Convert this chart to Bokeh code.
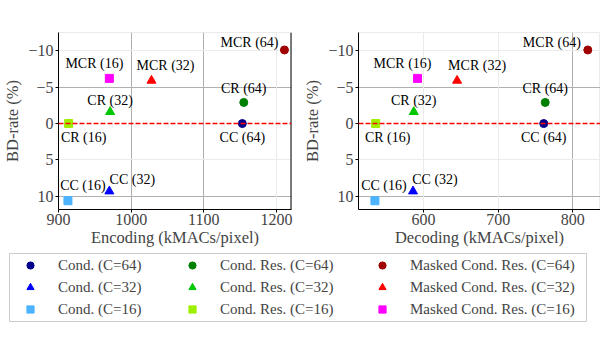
from bokeh.plotting import figure
from bokeh.models import (ColumnDataSource, Range1d, FixedTicker, CustomJSTickFormatter,
                          Span, Legend, LegendItem, Grid)
from bokeh.layouts import column, row
from bokeh.core.properties import value
from bokeh.embed import file_html
from bokeh.resources import INLINE

FONT = "Liberation Serif"

# ---- data (order: C=64, C=32, C=16; within each: Cond., Cond. Res., Masked Cond. Res.)
point_labels = ["CC (64)", "CR (64)", "MCR (64)",
                "CC (32)", "CR (32)", "MCR (32)",
                "CC (16)", "CR (16)", "MCR (16)"]
legend_labels = ["Cond. (C=64)", "Cond. Res. (C=64)", "Masked Cond. Res. (C=64)",
                 "Cond. (C=32)", "Cond. Res. (C=32)", "Masked Cond. Res. (C=32)",
                 "Cond. (C=16)", "Cond. Res. (C=16)", "Masked Cond. Res. (C=16)"]
encoding_kmacs = [1153, 1155, 1211, 970, 971, 1028, 913, 914, 970]
decoding_kmacs = [761, 763, 820, 586, 587, 645, 535, 536, 592]
bd_rate = [0.0, -2.9, -10.1, 9.3, -1.6, -5.9, 10.6, 0.0, -6.2]

enc_ticks = [900, 1000, 1100, 1200]
dec_ticks = [600, 700, 800]
bd_ticks = [-10, -5, 0, 5, 10]

# ---- styles
markers = ["circle", "circle", "circle",
           "triangle", "triangle", "triangle",
           "square", "square", "square"]
colors = ["#00008b", "#008000", "#a00000",
          "#0000ff", "#00c800", "#ff0000",
          "#4cb3ff", "#9ef000", "#ff00ff"]
sizes = [8, 8, 8, 9, 9, 9, 8, 8, 8]

# grid lines: darker and lighter sets (as in the reference)
enc_grid_dark, enc_grid_light = [1000, 1100], [1200]
dec_grid_dark, dec_grid_light = [800], [600, 700]
bd_grid_dark, bd_grid_light = [-5, 10], [-10, 5]

# label offsets (screen px) for annotations
enc_dx = [0, 0, -6, 23, 0, 14, 15, 15, -15]
enc_dy = [14, -14, -7, -12, -11, -15, -15, 14, -15]
dec_dx = [0, 0, -7, 22, 0, 20, 9, 12, -15]
dec_dy = [14, -14, -7, -12, -11, -15, -15, 14, -15]
aligns = ["center", "center", "right", "center", "center", "center", "center", "center", "center"]

tick_fmt_code = "return tick < 0 ? '\\u2212' + Math.abs(tick) : String(tick);"


def make_plot(xvals, xr, xticks, xgd, xgl, xlabel, dx, dy, width, mbl, mbr, right_spine):
    src = ColumnDataSource(dict(x=xvals, y=bd_rate, marker=markers, color=colors, size=sizes,
                                label=point_labels, dx=dx, dy=dy, align=aligns))
    p = figure(width=width, height=252, x_range=Range1d(*xr), y_range=Range1d(11.8, -12.5),
               output_backend="svg", toolbar_location=None,
               min_border_left=mbl, min_border_right=mbr, min_border_top=32, min_border_bottom=43)
    p.outline_line_color = "#ebebeb"
    p.background_fill_color = "white"
    p.xaxis.ticker = FixedTicker(ticks=xticks)
    p.yaxis.ticker = FixedTicker(ticks=bd_ticks)
    p.yaxis.formatter = CustomJSTickFormatter(code=tick_fmt_code)
    p.xgrid.ticker = FixedTicker(ticks=xgd)
    p.ygrid.ticker = FixedTicker(ticks=bd_grid_dark)
    p.grid.grid_line_color = "#b0b0b0"
    p.grid.grid_line_width = 1
    p.add_layout(Grid(dimension=0, ticker=FixedTicker(ticks=xgl), grid_line_color="#ebebeb"))
    p.add_layout(Grid(dimension=1, ticker=FixedTicker(ticks=bd_grid_light), grid_line_color="#ebebeb"))
    p.xaxis.axis_label = xlabel
    p.yaxis.axis_label = "BD-rate (%)"
    for ax in (p.xaxis[0], p.yaxis[0]):
        ax.axis_label_text_font = FONT
        ax.axis_label_text_font_style = "normal"
        ax.axis_label_text_font_size = "16.5px"
        ax.major_label_text_font = FONT
        ax.major_label_text_font_size = "16px"
        ax.axis_line_color = "black"
        ax.major_tick_line_color = "black"
        ax.major_tick_out = 3
        ax.major_tick_in = 0
        ax.minor_tick_line_color = None
    p.xaxis.major_label_standoff = 1
    p.xaxis.axis_label_standoff = 0
    p.yaxis.major_label_standoff = 2
    p.yaxis.axis_label_standoff = 3
    if right_spine:
        p.add_layout(Span(location=xr[1], dimension="height", line_color="black", line_width=2))
    p.add_layout(Span(location=0, dimension="width", line_color="#ff0000",
                      line_dash="5 2", line_width=1.5))
    p.scatter(x="x", y="y", marker="marker", size="size", fill_color="color",
              line_color="color", source=src)
    p.text(x="x", y="y", text="label", x_offset="dx", y_offset="dy", text_align="align",
           text_baseline="middle", text_font=value(FONT), text_font_size="14px",
           text_color="black", source=src)
    return p


p1 = make_plot(encoding_kmacs, (900, 1220.7), enc_ticks, enc_grid_dark, enc_grid_light,
               "Encoding (kMACs/pixel)", enc_dx, enc_dy, 300, 54, 9, True)
p2 = make_plot(decoding_kmacs, (513, 837), dec_ticks, dec_grid_dark, dec_grid_light,
               "Decoding (kMACs/pixel)", dec_dx, dec_dy, 300, 58, 0, False)

# ---- legend panel (hidden copies of the series supply the legend glyphs)
lp = figure(width=600, height=77, x_range=Range1d(0, 1), y_range=Range1d(0, 1),
            output_backend="svg", toolbar_location=None, x_axis_type=None, y_axis_type=None,
            min_border_left=9, min_border_right=14, min_border_top=1, min_border_bottom=8)
lp.outline_line_color = "#cccccc"
lp.grid.visible = False
dummies = []
for xv, yv, m, c in zip(encoding_kmacs, bd_rate, markers, colors):
    r = lp.scatter(x=[xv], y=[yv], marker=m, size=8, fill_color=c, line_color=c)
    r.visible = False
    dummies.append(r)

legend_col_x = [6, 168, 358]
for k, xloc in enumerate(legend_col_x):
    items = [LegendItem(label=legend_labels[i], renderers=[dummies[i]]) for i in (k, k + 3, k + 6)]
    lg = Legend(items=items, location=(xloc, 3), orientation="vertical",
                glyph_width=30, glyph_height=18, label_height=18, label_standoff=13,
                spacing=4, padding=0, margin=0, border_line_color=None,
                background_fill_alpha=0, inactive_fill_alpha=0,
                label_text_font=FONT, label_text_font_size="15px")
    lp.add_layout(lg)

layout = column(row(p1, p2), lp)
open("out.html", "w").write(file_html(layout, INLINE))
